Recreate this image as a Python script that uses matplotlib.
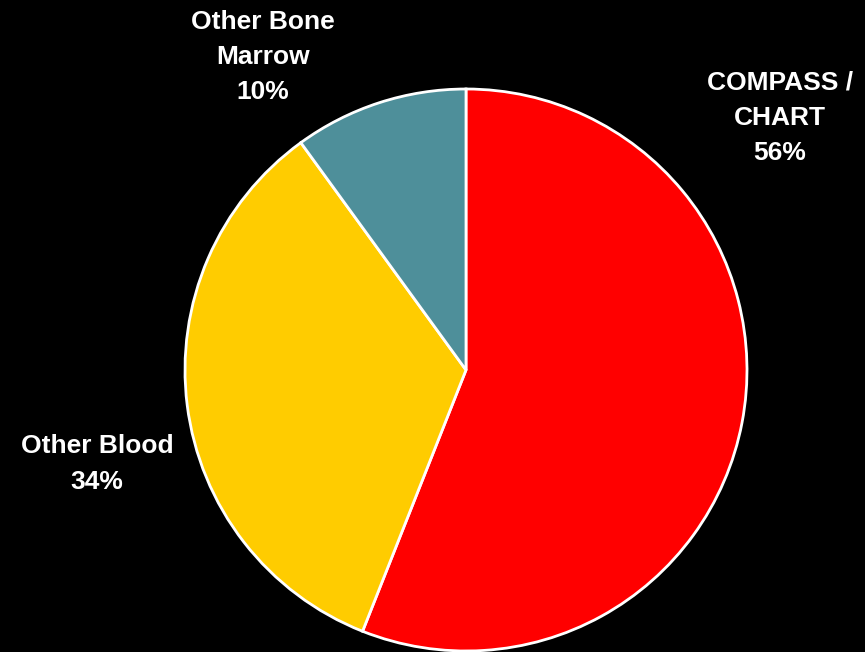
import matplotlib.pyplot as plt

labels = ['COMPASS /\nCHART', 'Other Blood', 'Other Bone\nMarrow']
shares = [56, 34, 10]
colours = ['#FF0000', '#FFCC00', '#4E8F9A']
# label centres in pixel coords (y measured from bottom)
label_pos = [(780, 534), (97, 188), (263, 595)]

plt.rcParams['font.family'] = ['Liberation Sans', 'DejaVu Sans']

fig = plt.figure(figsize=(8.65, 6.52), dpi=100, facecolor='black')
ax = fig.add_axes([0, 0, 1, 1])
ax.set_facecolor('black')

ax.pie(shares, colors=colours, startangle=90, counterclock=False,
       center=(466, 282), radius=281,
       wedgeprops={'edgecolor': 'white', 'linewidth': 2})

for lab, val, (x, y) in zip(labels, shares, label_pos):
    ax.text(x, y, f'{lab}\n{val}%', color='white', fontsize=19,
            fontweight='bold', ha='center', va='center', linespacing=1.6)

ax.set_xlim(0, 865)
ax.set_ylim(0, 652)
ax.set_aspect('equal')
ax.axis('off')

plt.savefig('out.png', dpi=100, facecolor='black')
